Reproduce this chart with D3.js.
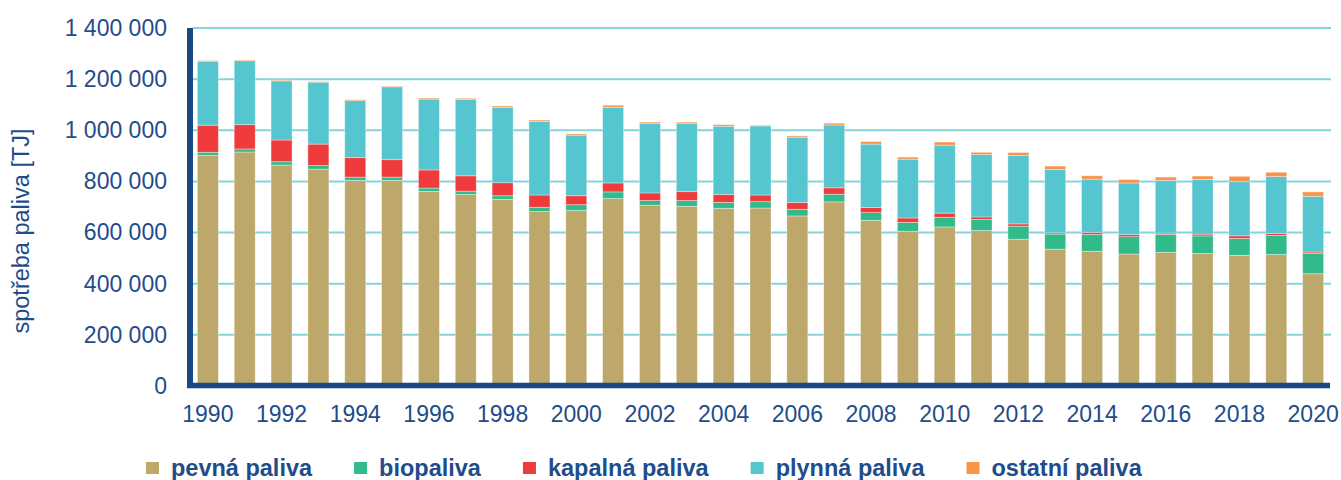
<!DOCTYPE html>
<html>
<head>
<meta charset="utf-8">
<script src="https://cdn.jsdelivr.net/npm/d3@7"></script>
<style>
    body { margin: 0; background: #fff; }
    svg { display: block; font-family: "Liberation Sans", Arial, sans-serif; }
</style>
</head>
<body>
<script>
// data (TJ)
const years = [1990, 1991, 1992, 1993, 1994, 1995, 1996, 1997, 1998, 1999, 2000,
    2001, 2002, 2003, 2004, 2005, 2006, 2007, 2008, 2009, 2010,
    2011, 2012, 2013, 2014, 2015, 2016, 2017, 2018, 2019, 2020];
const pevna = [902000, 915000, 864000, 848000, 804000, 804000, 761000, 749000, 730000, 682000, 686000,
    733000, 707000, 703000, 695000, 696000, 665000, 720000, 648000, 605000, 622000,
    608000, 574000, 535000, 527000, 516000, 523000, 518000, 511000, 514000, 439000];
const bio = [12000, 12000, 13000, 14000, 13000, 13000, 13000, 13000, 14000, 17000, 23000,
    26000, 18000, 22000, 23000, 25000, 26000, 30000, 30000, 35000, 38000,
    43000, 51000, 59000, 66000, 68000, 70000, 69000, 66000, 75000, 80000];
const kapalna = [106000, 95000, 85000, 84000, 76000, 68000, 71000, 60000, 51000, 48000, 35000,
    35000, 30000, 35000, 31000, 26000, 27000, 25000, 20000, 17000, 16000,
    10000, 9000, 5000, 8000, 8000, 5000, 7000, 10000, 7000, 5000];
const plynna = [250000, 250000, 231000, 242000, 223000, 285000, 277000, 298000, 294000, 288000, 237000,
    296000, 271000, 266000, 267000, 270000, 255000, 246000, 248000, 230000, 266000,
    244000, 267000, 248000, 208000, 202000, 206000, 214000, 212000, 223000, 218000];
const ostatni = [3000, 3000, 3000, 3000, 4000, 3000, 4000, 5000, 6000, 5000, 5000,
    8000, 6000, 6000, 6000, 3000, 5000, 7000, 10000, 8000, 12000,
    9000, 12000, 13000, 13000, 13000, 13000, 13000, 21000, 17000, 17000];

const series_names = ["pevná paliva", "biopaliva", "kapalná paliva", "plynná paliva", "ostatní paliva"];
const series_values = [pevna, bio, kapalna, plynna, ostatni];
const y_ticks = [0, 200000, 400000, 600000, 800000, 1000000, 1200000, 1400000];
const y_title = "spotřeba paliva [TJ]";

// setup
const WIDTH = 1341;
const HEIGHT = 480;
const COLORS = ["#bda76a", "#31ba8a", "#ef3b3c", "#55c5d0", "#f7944a"];
const TEXT_COLOR = "#1f4c8a";
const AXIS_COLOR = "#1a4a85";
const GRID_COLOR = "#86d3dc";

const table = years.map((year, i) => {
    const row = {year};
    series_names.forEach((name, k) => row[name] = series_values[k][i]);
    return row;
});

const stacked = d3.stack().keys(series_names)(table);

const svg = d3.select("body").append("svg")
    .attr("width", WIDTH)
    .attr("height", HEIGHT);

const x = d3.scaleBand()
    .domain(years)
    .range([190, 1331])
    .paddingInner(0.43)
    .paddingOuter(0.2);

const y = d3.scaleLinear()
    .domain([0, 1400000])
    .range([386, 28]);

const locale = d3.formatLocale({decimal: ",", thousands: "\u00a0", grouping: [3]});
const fmt = locale.format(",d");

// grid
svg.append("g").selectAll("line")
    .data(y_ticks.filter(d => d > 0))
    .join("line")
    .attr("x1", 193)
    .attr("x2", 1331)
    .attr("y1", d => y(d))
    .attr("y2", d => y(d))
    .attr("stroke", GRID_COLOR)
    .attr("stroke-width", 2);

// bars
svg.append("g").selectAll("g")
    .data(stacked)
    .join("g")
    .attr("fill", (d, i) => COLORS[i])
    .selectAll("rect")
    .data(d => d)
    .join("rect")
    .attr("x", d => x(d.data.year))
    .attr("width", x.bandwidth())
    .attr("y", d => y(d[1]))
    .attr("height", d => y(d[0]) - y(d[1]))
    .attr("stroke", "#ffffff")
    .attr("stroke-opacity", 0.45)
    .attr("stroke-width", 0.8);

// y axis labels
const y_axis = svg.append("g")
    .attr("transform", "translate(190,0)")
    .call(d3.axisLeft(y).tickValues(y_ticks).tickSize(0).tickPadding(23).tickFormat(fmt));
y_axis.select(".domain").remove();
y_axis.selectAll("text")
    .attr("fill", TEXT_COLOR)
    .style("font-size", "23px");

// x axis labels
const x_axis = svg.append("g")
    .attr("transform", "translate(0,386)")
    .call(d3.axisBottom(x).tickValues(years.filter(d => d % 2 === 0)).tickSize(0).tickPadding(20));
x_axis.select(".domain").remove();
x_axis.selectAll("text")
    .attr("fill", TEXT_COLOR)
    .style("font-size", "23px");

// axis lines
svg.append("line")
    .attr("x1", 190).attr("x2", 190)
    .attr("y1", 28).attr("y2", 388)
    .attr("stroke", AXIS_COLOR)
    .attr("stroke-width", 6);
svg.append("line")
    .attr("x1", 187).attr("x2", 1330)
    .attr("y1", 385.5).attr("y2", 385.5)
    .attr("stroke", AXIS_COLOR)
    .attr("stroke-width", 5.5);

// y title
svg.append("text")
    .attr("transform", "translate(28.5,231) rotate(-90)")
    .attr("text-anchor", "middle")
    .attr("fill", TEXT_COLOR)
    .style("font-size", "23.5px")
    .text(y_title);

// legend
const legend = svg.append("g");
let legend_x = 146;
series_names.forEach((name, i) => {
    legend.append("rect")
        .attr("x", legend_x)
        .attr("y", 462)
        .attr("width", 13)
        .attr("height", 12)
        .attr("fill", COLORS[i]);
    const label = legend.append("text")
        .attr("x", legend_x + 25)
        .attr("y", 475.5)
        .attr("fill", TEXT_COLOR)
        .style("font-size", "23.5px")
        .style("font-weight", "bold")
        .text(name);
    legend_x += 25 + label.node().getComputedTextLength() + 42;
});
</script>
</body>
</html>
